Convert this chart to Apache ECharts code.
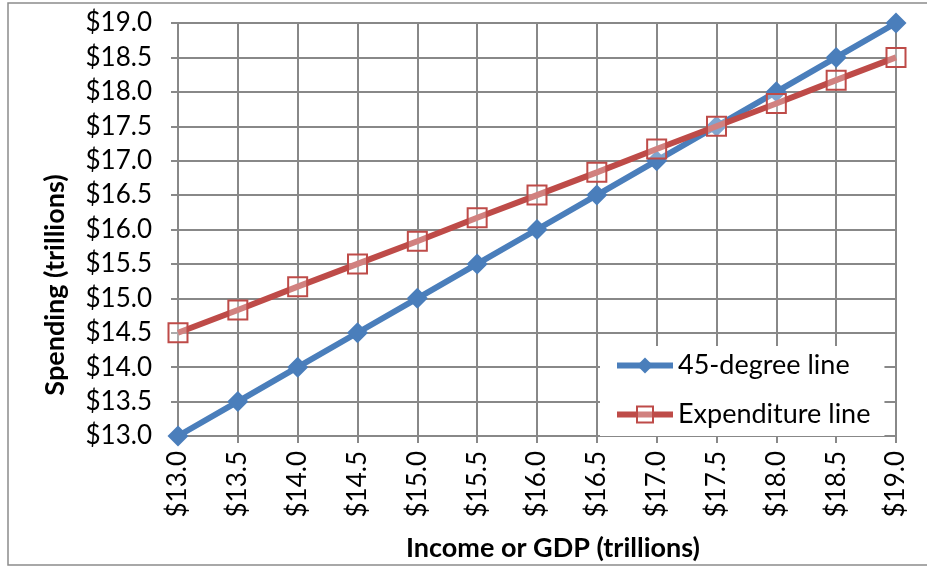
<!DOCTYPE html>
<html>
<head>
<meta charset="utf-8">
<script src="https://cdn.jsdelivr.net/npm/echarts@6/dist/echarts.min.js"></script>
<style>
  html, body { margin: 0; padding: 0; background: #fff; }
  #chart { width: 927px; height: 567px; }
</style>
</head>
<body>
<div id="chart"></div>
<script>
// 数据
var incomeValues = [13.0, 13.5, 14.0, 14.5, 15.0, 15.5, 16.0, 16.5, 17.0, 17.5, 18.0, 18.5, 19.0];
var degreeLine = [13.0, 13.5, 14.0, 14.5, 15.0, 15.5, 16.0, 16.5, 17.0, 17.5, 18.0, 18.5, 19.0];
var expenditureLine = [14.5, 14.83, 15.17, 15.5, 15.83, 16.17, 16.5, 16.83, 17.17, 17.5, 17.83, 18.17, 18.5];
var seriesNames = ['45-degree line', 'Expenditure line'];
var xTitle = 'Income or GDP (trillions)';
var yTitle = 'Spending (trillions)';

(function() {
  var myChart = echarts.init(document.getElementById('chart'));
  var font = 'Lato, "Open Sans", sans-serif';
  var gridColor = '#888888';
  function pairs(ys) {
    return incomeValues.map(function(x, i) { return [x, ys[i]]; });
  }
  var money = function(v) { return '$' + v.toFixed(1); };

  var option = {
    animation: false,
    textStyle: { fontFamily: font },
    graphic: [
      {
        type: 'rect',
        shape: { x: 8, y: 3, width: 940, height: 562 },
        style: { fill: 'none', stroke: '#8c8c8c', lineWidth: 1.5 },
        z: -1
      },
      //坐标轴标题
      {
        type: 'text',
        x: 553,
        y: 548,
        style: {
          text: xTitle,
          fontSize: 27,
          fontWeight: 'bold',
          fontFamily: font,
          fill: '#000',
          align: 'center',
          verticalAlign: 'middle'
        }
      },
      {
        type: 'text',
        x: 55,
        y: 285,
        rotation: Math.PI / 2,
        style: {
          text: yTitle,
          fontSize: 27,
          fontWeight: 'bold',
          fontFamily: font,
          fill: '#000',
          align: 'center',
          verticalAlign: 'middle'
        }
      }
    ],
    grid: {
      left: 178,
      right: 31,
      top: 23,
      bottom: 131
    },
    legend: {
      left: 600,
      top: 346,
      orient: 'vertical',
      backgroundColor: '#fff',
      padding: [6, 14, 8, 14],
      itemGap: 22,
      itemWidth: 56,
      itemHeight: 20,
      lineStyle: { width: 6 },
      textStyle: { fontSize: 27, color: '#000', fontFamily: font },
      data: seriesNames
    },
    xAxis: {
      type: 'value',
      min: 13,
      max: 19,
      interval: 0.5,
      axisLine: { lineStyle: { color: gridColor, width: 2 } },
      axisTick: { show: true, length: 7, lineStyle: { color: gridColor, width: 2 } },
      axisLabel: {
        rotate: 90,
        margin: 15,
        fontSize: 26,
        color: '#000',
        formatter: money
      },
      splitLine: { lineStyle: { color: gridColor, width: 2 } }
    },
    yAxis: {
      type: 'value',
      min: 13,
      max: 19,
      interval: 0.5,
      axisLine: { show: true, lineStyle: { color: gridColor, width: 2 } },
      axisTick: { show: true, length: 7, lineStyle: { color: gridColor, width: 2 } },
      axisLabel: {
        margin: 26,
        fontSize: 26,
        color: '#000',
        formatter: money
      },
      splitLine: { lineStyle: { color: gridColor, width: 2 } }
    },
    series: [
      {
        name: seriesNames[0],
        type: 'line',
        data: pairs(degreeLine),
        symbol: 'diamond',
        symbolSize: 21,
        lineStyle: { color: '#4a7ebb', width: 6 },
        itemStyle: { color: '#4a7ebb' },
        z: 2
      },
      {
        name: seriesNames[1],
        type: 'line',
        data: pairs(expenditureLine),
        symbol: 'rect',
        symbolSize: 19,
        lineStyle: { color: '#be4b48', width: 6 },
        itemStyle: { color: 'rgba(255,255,255,0.3)', borderColor: '#be4b48', borderWidth: 2 },
        z: 3
      }
    ]
  };
  myChart.setOption(option);
  window.addEventListener('resize', function() {
    myChart.resize();
  });
})();
</script>
</body>
</html>
